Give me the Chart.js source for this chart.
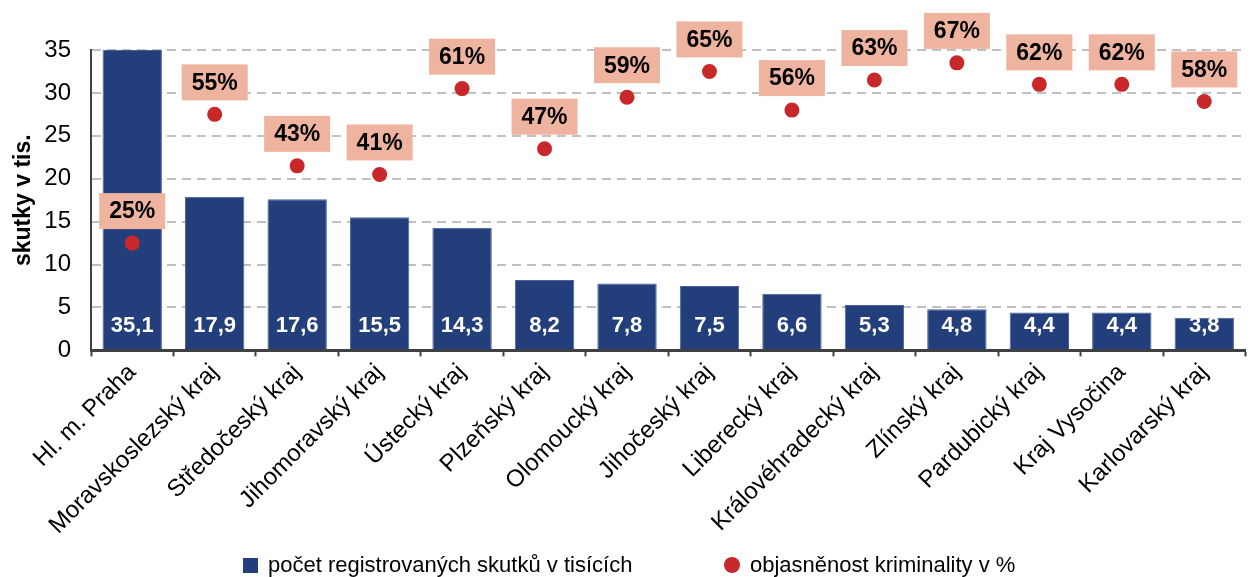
<!DOCTYPE html>
<html>
<head>
<meta charset="utf-8">
<script src="https://cdn.jsdelivr.net/npm/chart.js@4"></script>
<style>
  html, body { margin: 0; padding: 0; background: #fff; }
  #wrap { position: relative; width: 1253px; height: 577px; }
  .legend { position: absolute; top: 552px; font: 22px 'Liberation Sans', Arial, sans-serif; color: #000; white-space: nowrap; }
  .legend i { display: inline-block; vertical-align: -1px; margin-right: 10px; }
  .sq { width: 15px; height: 15px; background: #223F7C; }
  .dot { width: 16px; height: 16px; border-radius: 50%; background: #C8282A; }
</style>
</head>
<body>
<div id="wrap">
  <canvas id="myChart"></canvas>
  <div class="legend" style="left:243px"><i class="sq"></i>počet registrovaných skutků v tisících</div>
  <div class="legend" style="left:724px"><i class="dot"></i>objasněnost kriminality v %</div>
</div>
<script>
// data
const regions = ['Hl. m. Praha', 'Moravskoslezský kraj', 'Středočeský kraj', 'Jihomoravský kraj', 'Ústecký kraj',
  'Plzeňský kraj', 'Olomoucký kraj', 'Jihočeský kraj', 'Liberecký kraj', 'Královéhradecký kraj',
  'Zlínský kraj', 'Pardubický kraj', 'Kraj Vysočina', 'Karlovarský kraj'];
const offences = [35.1, 17.9, 17.6, 15.5, 14.3, 8.2, 7.8, 7.5, 6.6, 5.3, 4.8, 4.4, 4.4, 3.8];
const clearance = [25, 55, 43, 41, 61, 47, 59, 65, 56, 63, 67, 62, 62, 58];
const yTicks = [0, 5, 10, 15, 20, 25, 30, 35];

const FONT = "'Liberation Sans', Arial, sans-serif";

// value labels: white numbers in bars, salmon boxes above points
const valueLabels = {
  id: 'valueLabels',
  afterDatasetsDraw(chart) {
    const ctx = chart.ctx;
    const bottom = chart.chartArea.bottom;
    ctx.save();
    ctx.textAlign = 'center';
    ctx.textBaseline = 'middle';

    chart.getDatasetMeta(0).data.forEach((bar, i) => {
      ctx.font = 'bold 22px ' + FONT;
      ctx.fillStyle = '#ffffff';
      ctx.fillText(offences[i].toFixed(1).replace('.', ','), bar.x, bottom - 24);
    });

    chart.getDatasetMeta(1).data.forEach((pt, i) => {
      const txt = clearance[i] + '%';
      ctx.font = 'bold 23px ' + FONT;
      const w = ctx.measureText(txt).width + 20;
      const h = 36;
      const cy = pt.y - 32;
      ctx.fillStyle = '#EEB4A0';
      ctx.fillRect(pt.x - w / 2, cy - h / 2, w, h);
      ctx.fillStyle = '#000000';
      ctx.fillText(txt, pt.x, cy + 1);
    });
    ctx.restore();
  }
};

const data = {
  labels: regions,
  datasets: [{
    type: 'bar',
    label: 'počet registrovaných skutků v tisících',
    data: offences,
    backgroundColor: '#223F7C',
    borderColor: '#4A6296',
    borderWidth: 1,
    categoryPercentage: 0.72,
    barPercentage: 1,
    yAxisID: 'y',
    order: 2
  }, {
    type: 'line',
    label: 'objasněnost kriminality v %',
    data: clearance,
    showLine: false,
    pointRadius: 7.5,
    pointHoverRadius: 7.5,
    pointBackgroundColor: '#C8282A',
    pointBorderColor: '#C8282A',
    pointBorderWidth: 0,
    yAxisID: 'y1',
    order: 1
  }]
};

const config = {
  type: 'bar',
  data,
  plugins: [valueLabels],
  options: {
    responsive: true,
    maintainAspectRatio: false,
    animation: false,
    layout: { padding: { left: 8, right: 3, top: 50, bottom: 35 } },
    scales: {
      x: {
        // rotated labels should not push the plot area inwards
        afterFit(scale) { scale.paddingLeft = 0; scale.paddingRight = 0; },
        grid: {
          offset: true,
          drawOnChartArea: false,
          drawTicks: true,
          tickLength: 6,
          tickColor: '#404040',
          tickWidth: 2
        },
        border: { color: '#404040', width: 3 },
        ticks: {
          color: '#000',
          font: { family: FONT, size: 24 },
          minRotation: 45,
          maxRotation: 45,
          padding: 2,
          autoSkip: false
        }
      },
      y: {
        min: 0,
        max: 35,
        afterBuildTicks(axis) { axis.ticks = yTicks.map(v => ({ value: v })); },
        afterFit(scale) { scale.width = 83; },
        grid: {
          color: (c) => c.tick && c.tick.value === 0 ? 'rgba(0,0,0,0)' : '#C0C0C0',
          lineWidth: 2,
          drawTicks: false
        },
        border: { color: '#404040', width: 2, dash: [9, 6] },
        ticks: {
          color: '#000',
          font: { family: FONT, size: 24 },
          padding: 20
        },
        title: {
          display: true,
          text: 'skutky v tis.',
          color: '#000',
          font: { family: FONT, size: 23, weight: 'bold' },
          padding: { top: 2, bottom: 4 }
        }
      },
      y1: {
        display: false,
        min: 0,
        max: 70
      }
    },
    plugins: {
      legend: { display: false },
      tooltip: { enabled: false }
    }
  }
};

const myChart = new Chart(document.getElementById('myChart'), config);
</script>
</body>
</html>
